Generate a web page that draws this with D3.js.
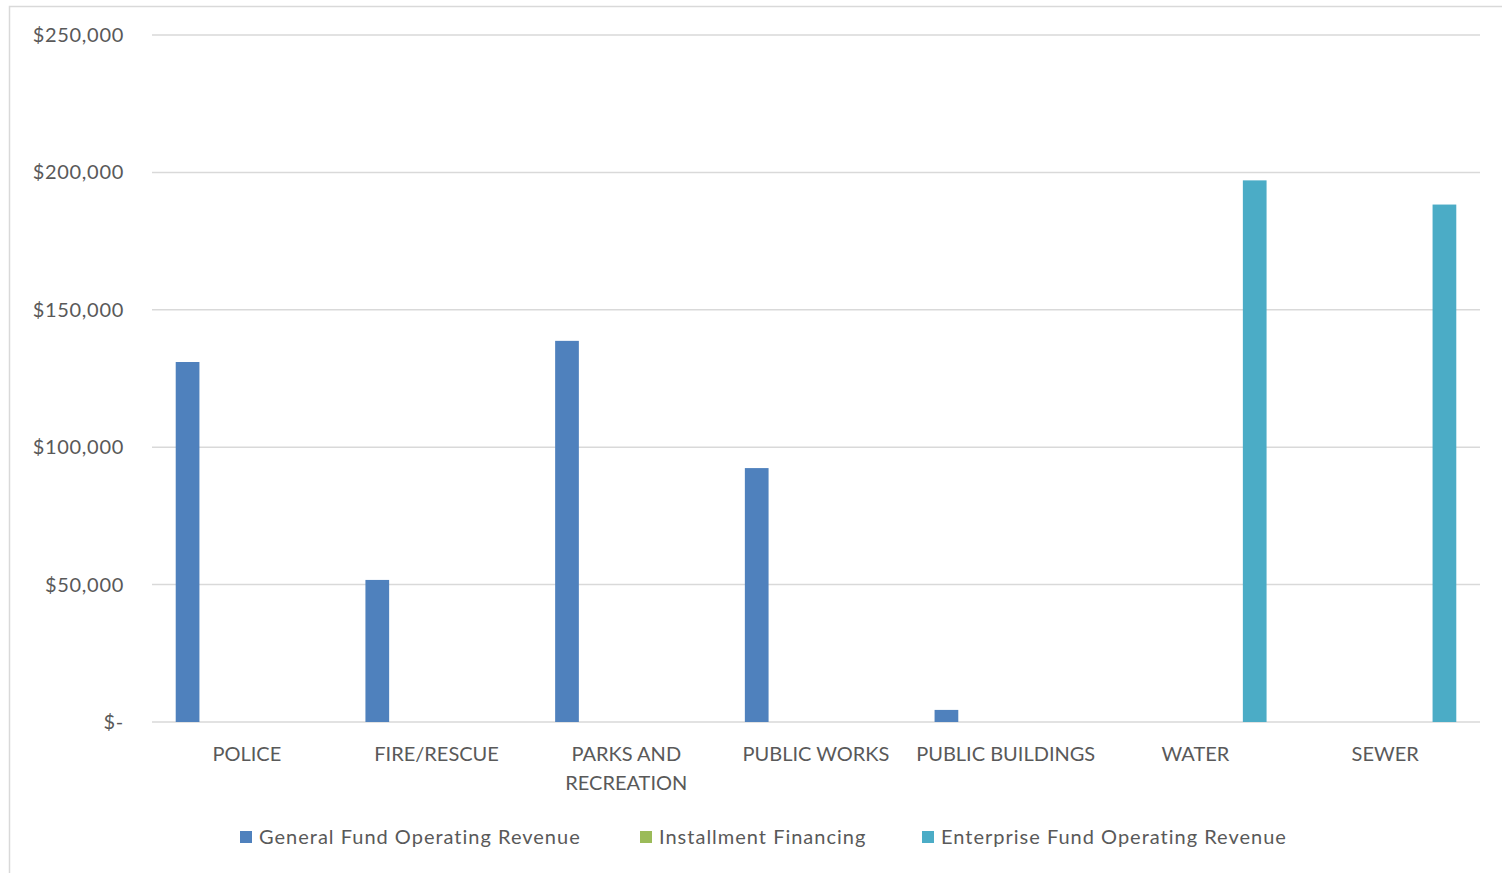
<!DOCTYPE html>
<html>
<head>
<meta charset="utf-8">
<script src="https://cdn.jsdelivr.net/npm/d3@7"></script>
<style>
  body { margin: 0; background: #fff; }
  svg text { font-family: Lato, 'Open Sans', sans-serif; fill: #595959; }
</style>
</head>
<body>
<div id="chart"></div>
<script>
const categories = ['POLICE', 'FIRE/RESCUE', 'PARKS AND RECREATION', 'PUBLIC WORKS', 'PUBLIC BUILDINGS', 'WATER', 'SEWER'];
const seriesNames = ['General Fund Operating Revenue', 'Installment Financing', 'Enterprise Fund Operating Revenue'];
const generalFund = [131000, 51700, 138700, 92400, 4400, 0, 0];
const installment = [0, 0, 0, 0, 0, 0, 0];
const enterpriseFund = [0, 0, 0, 0, 0, 197100, 188300];
const yTicks = [0, 50000, 100000, 150000, 200000, 250000];
const colors = ['#4F81BD', '#9BBB59', '#4BACC6'];

const width = 1502;
const height = 873;
const margin = { top: 35, right: 22, bottom: 151, left: 152 };

const svg = d3.select('#chart')
  .append('svg')
  .attr('width', width)
  .attr('height', height)

// chart frame
svg.append('rect')
  .attr('x', 9.5)
  .attr('y', 6.5)
  .attr('width', width + 20)
  .attr('height', height + 20)
  .attr('fill', 'none')
  .attr('stroke', '#d9d9d9')
  .attr('stroke-width', 1.5)

const x0 = d3.scaleBand()
  .domain(categories)
  .range([margin.left, width - margin.right])
  .padding(0)

const x1 = d3.scaleBand()
  .domain(seriesNames)
  .range([0, x0.bandwidth()])
  .paddingInner(0.6)
  .paddingOuter(0.4)

const y = d3.scaleLinear()
  .domain([0, 250000])
  .range([height - margin.bottom, margin.top])

const fmt = (v) => v === 0 ? '$-' : '$' + d3.format(',')(v);

// gridlines
svg.append('g')
  .selectAll('line')
  .data(yTicks)
  .join('line')
  .attr('x1', margin.left)
  .attr('x2', width - margin.right)
  .attr('y1', (d) => y(d))
  .attr('y2', (d) => y(d))
  .attr('stroke', '#d9d9d9')
  .attr('stroke-width', 1.5)

// y labels
svg.append('g')
  .selectAll('text')
  .data(yTicks)
  .join('text')
  .attr('x', 124)
  .attr('y', (d) => y(d) + 7)
  .attr('text-anchor', 'end')
  .style('font-size', '20px')
  .style('letter-spacing', '0.7px')
  .text((d) => fmt(d))

const table = categories.map((c, i) => ({
  category: c,
  values: [generalFund[i], installment[i], enterpriseFund[i]]
}));

// bars
svg.append('g')
  .selectAll('g')
  .data(table)
  .join('g')
  .attr('transform', (d) => `translate(${x0(d.category)},0)`)
  .selectAll('rect')
  .data((d) => d.values.map((v, j) => ({ name: seriesNames[j], value: v, color: colors[j] })))
  .join('rect')
  .attr('x', (d) => x1(d.name))
  .attr('width', x1.bandwidth())
  .attr('y', (d) => y(d.value))
  .attr('height', (d) => y(0) - y(d.value))
  .attr('fill', (d) => d.color)

// x labels (wrap long ones)
const wrapped = { 'PARKS AND RECREATION': ['PARKS AND', 'RECREATION'] };
svg.append('g')
  .selectAll('text')
  .data(categories)
  .join('text')
  .attr('x', (d) => x0(d) + x0.bandwidth() / 2)
  .attr('y', 761)
  .attr('text-anchor', 'middle')
  .style('font-size', '20px')
  .each(function (d) {
    const lines = wrapped[d] || [d];
    d3.select(this).selectAll('tspan')
      .data(lines)
      .join('tspan')
      .attr('x', x0(d) + x0.bandwidth() / 2)
      .attr('dy', (l, i) => i === 0 ? 0 : 29)
      .text((l) => l)
  })

// legend
const legendX = [240, 640, 922];
const legend = svg.append('g')
  .selectAll('g')
  .data(seriesNames)
  .join('g')
  .attr('transform', (d, i) => `translate(${legendX[i]},831)`)

legend.append('rect')
  .attr('width', 12)
  .attr('height', 12)
  .attr('fill', (d, i) => colors[i])

legend.append('text')
  .attr('x', 19)
  .attr('y', 13)
  .style('font-size', '20px')
  .style('letter-spacing', '1px')
  .text((d) => d)
</script>
</body>
</html>
